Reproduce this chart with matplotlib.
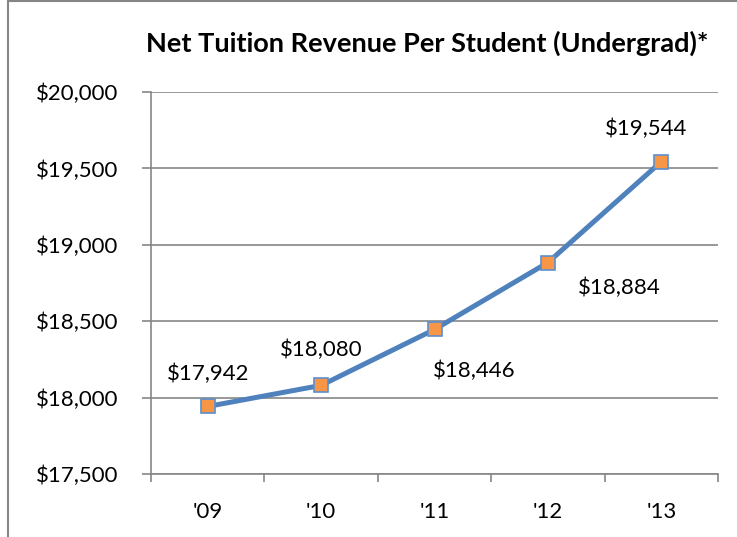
import matplotlib.pyplot as plt
from matplotlib.ticker import FuncFormatter, FixedLocator
from matplotlib.lines import Line2D

years = ["'09", "'10", "'11", "'12", "'13"]
revenue = [17942, 18080, 18446, 18884, 19544]
# where each data label sits relative to its point (pixels)
label_offsets = [(0, 33), (0, 35), (40, -41), (71, -25), (-15, 33)]

plt.rcParams['font.family'] = ['Lato', 'DejaVu Sans']

fig = plt.figure(figsize=(7.37, 5.37), dpi=100)
W, H = 737, 537
ax = fig.add_axes([151 / W, 1 - 474 / H, (718 - 151) / W, (474 - 92) / H])

x = list(range(len(years)))
ax.plot(x, revenue, color='#4F81BD', lw=3.6, marker='s', markersize=10,
        markerfacecolor='#F79646', markeredgecolor='#5B8FD0', markeredgewidth=1.2,
        zorder=3, solid_capstyle='round')

for xi, v, (dx, dy) in zip(x, revenue, label_offsets):
    ax.annotate("${:,}".format(v), (xi, v), xytext=(dx, dy), textcoords='offset pixels',
                ha='center', va='center', fontsize=16, color='black')

ax.set_xlim(-0.5, len(years) - 0.5)
ax.set_ylim(17500, 20000)
ax.set_yticks(range(17500, 20001, 500))
ax.yaxis.set_major_formatter(FuncFormatter(lambda v, p: "${:,.0f}".format(v)))
ax.set_xticks(x)
ax.set_xticklabels(years)
ax.xaxis.set_minor_locator(FixedLocator([i - 0.5 for i in range(len(years) + 1)]))
ax.tick_params(axis='x', which='major', length=0, pad=20, labelsize=16)
ax.tick_params(axis='x', which='minor', length=5.8, color='#868686', width=1.2)
ax.tick_params(axis='y', length=6.5, color='#868686', width=1.2, pad=17, labelsize=16)

ax.grid(axis='y', color='#868686', lw=1.2)
ax.set_axisbelow(True)
for s in ['top', 'right']:
    ax.spines[s].set_visible(False)
for s in ['left', 'bottom']:
    ax.spines[s].set_color('#868686')
    ax.spines[s].set_linewidth(1.2)

fig.text(427 / W, 1 - 52 / H, "Net Tuition Revenue Per Student (Undergrad)*",
         ha='center', va='baseline', fontsize=19.5, fontweight='bold')

# chart border (only left and top visible in this crop)
fig.add_artist(Line2D([8 / W, 8 / W], [0, 1 - 1 / H], color='#868686', lw=1.5,
                      transform=fig.transFigure))
fig.add_artist(Line2D([8 / W, 1], [1 - 1 / H, 1 - 1 / H], color='#868686', lw=1.5,
                      transform=fig.transFigure))

fig.savefig('out.png', dpi=100)
